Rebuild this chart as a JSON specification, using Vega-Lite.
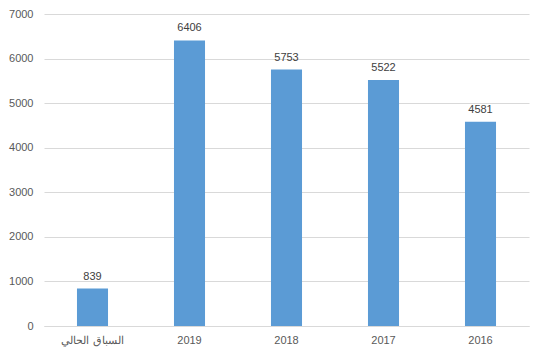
{
  "$schema": "https://vega.github.io/schema/vega-lite/v6.json",
  "width": 485,
  "height": 312,
  "padding": {"left": 8, "top": 8, "right": 14, "bottom": 5},
  "autosize": {"type": "pad"},
  "background": "white",
  "config": {
    "view": {"stroke": null},
    "font": "Liberation Sans",
    "axis": {"labelFont": "Liberation Sans", "labelFontSize": 11, "labelColor": "#595959", "title": null}
  },
  "data": {"values": [
    {"category": "السباق الحالي", "value": 839},
    {"category": "2019", "value": 6406},
    {"category": "2018", "value": 5753},
    {"category": "2017", "value": 5522},
    {"category": "2016", "value": 4581}
  ]},
  "encoding": {
    "x": {"field": "category", "type": "nominal", "sort": null,
      "scale": {"paddingInner": 0.68, "paddingOuter": 0.34},
      "axis": {"labelAngle": 0, "ticks": false, "domainColor": "#d9d9d9", "labelPadding": 8}},
    "y": {"field": "value", "type": "quantitative",
      "scale": {"domain": [0, 7000]},
      "axis": {"values": [0,1000,2000,3000,4000,5000,6000,7000], "format": "d", "domain": false, "ticks": false, "gridColor": "#d9d9d9", "labelPadding": 11}}
  },
  "layer": [
    {"mark": {"type": "bar", "color": "#5b9bd5"}},
    {"mark": {"type": "text", "dy": -7, "baseline": "bottom", "fontSize": 11, "color": "#404040"},
     "encoding": {"text": {"field": "value", "type": "quantitative", "format": "d"}}}
  ]
}
